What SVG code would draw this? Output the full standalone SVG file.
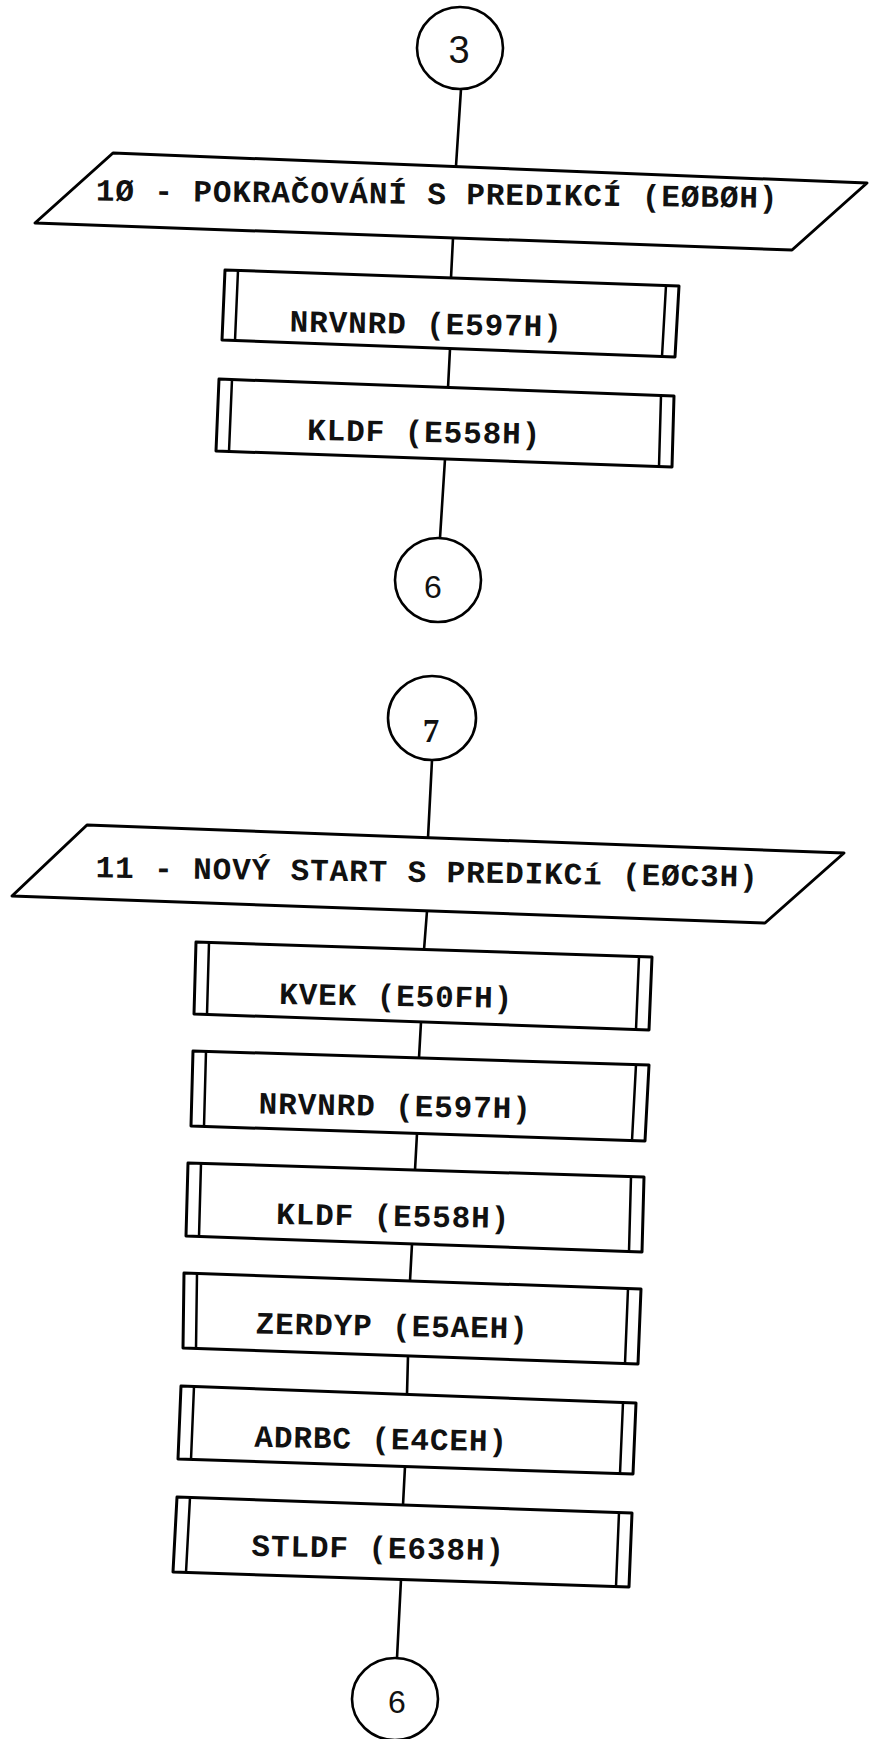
<svg xmlns="http://www.w3.org/2000/svg" width="869" height="1739" viewBox="0 0 869 1739">
<style>
.sh{fill:#fff;stroke:#000;stroke-width:3;stroke-linejoin:round}
.bar{fill:none;stroke:#000;stroke-width:2.5}
.cn{fill:none;stroke:#000;stroke-width:2.6;stroke-linecap:round}
.ci{fill:#fff;stroke:#000;stroke-width:2.6}
.t{font-family:"Liberation Mono","DejaVu Sans Mono",monospace;font-weight:bold;font-size:31px;letter-spacing:0.9px;text-anchor:middle;fill:#111}
.d{font-family:"Liberation Sans","DejaVu Sans",sans-serif;font-size:32px;text-anchor:middle;fill:#111}
.d7{font-family:"Liberation Serif","DejaVu Serif",serif;font-weight:bold;font-size:33px;text-anchor:middle;fill:#111}
</style>
<rect width="869" height="1739" fill="#fff"/>
<g id="connectors">
<line class="cn" x1="461" y1="89" x2="456" y2="166"/>
<line class="cn" x1="453" y1="238" x2="451" y2="278"/>
<line class="cn" x1="450" y1="349" x2="448" y2="388"/>
<line class="cn" x1="445" y1="459" x2="440" y2="538"/>
<line class="cn" x1="432" y1="760" x2="428" y2="838"/>
<line class="cn" x1="427" y1="911" x2="424" y2="950"/>
<line class="cn" x1="421" y1="1022" x2="419" y2="1058"/>
<line class="cn" x1="417" y1="1133.5" x2="415" y2="1170"/>
<line class="cn" x1="412" y1="1244" x2="410" y2="1281"/>
<line class="cn" x1="408" y1="1356" x2="407" y2="1394"/>
<line class="cn" x1="405" y1="1466.5" x2="403" y2="1505"/>
<line class="cn" x1="401" y1="1579.5" x2="397" y2="1658"/>
</g>
<g id="c3">
<ellipse class="ci" cx="460" cy="48" rx="43" ry="41"/>
<text class="d" x="459" y="63" style="font-size:38px">3</text>
</g>
<g id="p10">
<polygon class="sh" points="113,153 867,183 792,250 35,223"/>
<text class="t" x="437" y="204" transform="rotate(0.6 437 204)">1Ø - POKRAČOVÁNÍ S PREDIKCÍ (EØBØH)</text>
</g>
<g id="b1">
<polygon class="sh" points="225,270 679,286 675,357 222,340"/>
<path class="bar" d="M238,270.5 L235,340.5 M666,285.5 L662,356.5"/>
<text class="t" x="426" y="334" transform="rotate(1 426 334)">NRVNRD (E597H)</text>
</g>
<g id="b2">
<polygon class="sh" points="219,379 674,396 672,467 216,451"/>
<path class="bar" d="M232,379.5 L229,451.5 M661,395.5 L659,466.5"/>
<text class="t" x="424" y="442" transform="rotate(1 424 442)">KLDF (E558H)</text>
</g>
<g id="c6a">
<ellipse class="ci" cx="438" cy="580" rx="43" ry="42"/>
<text class="d" x="433" y="598">6</text>
</g>
<g id="c7">
<ellipse class="ci" cx="432" cy="718" rx="44" ry="42"/>
<text class="d7" x="431" y="742">7</text>
</g>
<g id="p11">
<polygon class="sh" points="87,825 844,853 765,923 12,896"/>
<text class="t" x="427" y="882" transform="rotate(0.8 427 882)">11 - NOVÝ START S PREDIKCí (EØC3H)</text>
</g>
<g id="b3">
<polygon class="sh" points="196,942 652,957 649,1030 194,1014"/>
<path class="bar" d="M209,942.4 L207,1014.5 M639,956.6 L636,1029.5"/>
<text class="t" x="396" y="1006" transform="rotate(1 396 1006)">KVEK (E50FH)</text>
</g>
<g id="b4">
<polygon class="sh" points="193,1051 649,1065 645,1141 191,1126"/>
<path class="bar" d="M206,1051.4 L204,1126.5 M636,1064.6 L632,1140.5"/>
<text class="t" x="395" y="1116" transform="rotate(1 395 1116)">NRVNRD (E597H)</text>
</g>
<g id="b5">
<polygon class="sh" points="188,1163 644,1177 642,1252 186,1236"/>
<path class="bar" d="M201,1163.4 L199,1236.5 M631,1176.6 L629,1251.5"/>
<text class="t" x="393" y="1226" transform="rotate(1 393 1226)">KLDF (E558H)</text>
</g>
<g id="b6">
<polygon class="sh" points="184,1273 641,1289 638,1364 183,1348"/>
<path class="bar" d="M197,1273.5 L196,1348.5 M628,1288.5 L625,1363.5"/>
<text class="t" x="392" y="1336" transform="rotate(1 392 1336)">ZERDYP (E5AEH)</text>
</g>
<g id="b7">
<polygon class="sh" points="181,1386 636,1403 633,1474 178,1459"/>
<path class="bar" d="M194,1386.5 L191,1459.5 M623,1402.5 L620,1473.5"/>
<text class="t" x="381" y="1449" transform="rotate(1 381 1449)">ADRBC (E4CEH)</text>
</g>
<g id="b8">
<polygon class="sh" points="177,1497 632,1513 629,1587 173,1572"/>
<path class="bar" d="M190,1497.5 L186,1572.5 M619,1512.5 L616,1586.5"/>
<text class="t" x="378" y="1558" transform="rotate(1 378 1558)">STLDF (E638H)</text>
</g>
<g id="c6b">
<ellipse class="ci" cx="395" cy="1699" rx="43" ry="41"/>
<text class="d" x="397" y="1713">6</text>
</g>
</svg>
